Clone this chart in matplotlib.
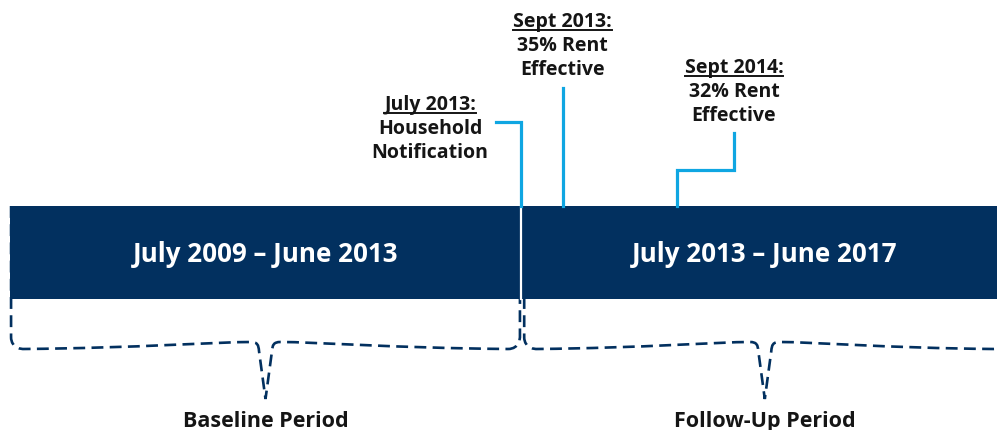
import matplotlib

matplotlib.use("Agg")
import matplotlib.pyplot as plt
from matplotlib.path import Path
from matplotlib.patches import PathPatch

NAVY = "#02305F"
CYAN = "#0FA6E2"
INK = "#151515"
FONT = "Open Sans"

# ---- data (x in months since July 2009) -----------------------------------
period_labels = ["July 2009 \u2013 June 2013", "July 2013 \u2013 June 2017"]
period_start = [0, 48]
period_end = [48, 96]
period_names = ["Baseline Period", "Follow-Up Period"]
brace_start = [0.1, 48.3]
brace_end = [47.9, 93.5]

event_titles = ["July 2013:", "Sept 2013:", "Sept 2014:"]
event_line1 = ["Household", "35% Rent", "32% Rent"]
event_line2 = ["Notification", "Effective", "Effective"]
event_month = [48, 51.9, 62.65]

# ---- layout (y in pixels from top) ----------------------------------------
PX = 10.646                      # pixels per month
label_x = [39.45, 51.9, 68.0]
label_base = [110, 27, 73]       # baseline of title line
BAR_TOP, BAR_BOT = 207, 300

fig = plt.figure(figsize=(9.97, 4.31), dpi=100)
ax = fig.add_axes([0, 0, 1, 1])
ax.set_xlim(-10 / PX, 987 / PX)
ax.set_ylim(431, 0)
ax.axis("off")

# bars
widths = [e - s for s, e in zip(period_start, period_end)]
ax.barh([(BAR_TOP + BAR_BOT) / 2] * 2, widths, left=period_start,
        height=BAR_BOT - BAR_TOP, color=NAVY, zorder=2)
ax.plot([48, 48], [BAR_TOP, BAR_BOT], color="white", lw=1.6, zorder=3)

for lab, bs, be in zip(period_labels, brace_start, brace_end):
    ax.text((bs + be) / 2, 262, lab, ha="center", va="baseline", color="white",
            fontsize=18.7, fontweight="bold", family=FONT, zorder=4)


# braces
def brace(x0, x1):
    xm = (x0 + x1) / 2
    r = 12 / PX
    verts = [(x0, BAR_TOP), (x0, 338),
             (x0, 350), (x0 + r, 350), (x0 + r, 350)]
    codes = [Path.MOVETO, Path.LINETO, Path.CURVE4, Path.CURVE4, Path.CURVE4]
    a = x0 + r
    b = xm - 15 / PX
    verts += [(a + (b - a) * 0.5, 349), (b - (b - a) * 0.15, 343), (b, 343)]
    codes += [Path.CURVE4] * 3
    verts += [(xm - 8 / PX, 343), (xm - 7 / PX, 346), (xm - 6.5 / PX, 352)]
    codes += [Path.CURVE4] * 3
    verts += [(xm, 400), (xm + 6.5 / PX, 352)]
    codes += [Path.LINETO, Path.LINETO]
    c = xm + 15 / PX
    d = x1 - r
    verts += [(xm + 7 / PX, 346), (xm + 8 / PX, 343), (c, 343)]
    codes += [Path.CURVE4] * 3
    verts += [(c + (d - c) * 0.15, 343), (d - (d - c) * 0.5, 349), (d, 350)]
    codes += [Path.CURVE4] * 3
    verts += [(x1, 350), (x1, 338), (x1, 338), (x1, BAR_TOP)]
    codes += [Path.CURVE4] * 3 + [Path.LINETO]
    return Path(verts, codes), xm


for name, bs, be in zip(period_names, brace_start, brace_end):
    p, xm = brace(bs, be)
    patch = PathPatch(p, facecolor="none", edgecolor=NAVY, lw=1.9,
                      linestyle=(0, (4.5, 2.4)), zorder=1)
    ax.add_patch(patch)
    ax.text(xm, 427, name, ha="center", va="baseline", color=INK,
            fontsize=15.5, fontweight="bold", family=FONT)

# event connectors
conn = [
    ([45.65, 48, 48], [123, 123, BAR_TOP]),
    ([51.9, 51.9], [89, BAR_TOP]),
    ([68.0, 68.0, 62.65, 62.65], [134, 171, 171, BAR_TOP]),
]
for (xs, ys), m in zip(conn, event_month):
    xs = xs[:-1] + [m] if len(xs) > 2 else [m, m]
    ax.plot(xs, ys, color=CYAN, lw=2.3, solid_joinstyle="miter", zorder=3)

# event labels with underlined titles
titles = []
for t, l1, l2, x, y in zip(event_titles, event_line1, event_line2, label_x, label_base):
    tt = ax.text(x, y, t, ha="center", va="baseline", color=INK,
                 fontsize=14, fontweight="bold", family=FONT)
    titles.append(tt)
    for k, line in enumerate([l1, l2]):
        ax.text(x, y + 24 * (k + 1), line, ha="center", va="baseline", color=INK,
                fontsize=14, fontweight="bold", family=FONT)

fig.canvas.draw()
inv = ax.transData.inverted()
for tt, y in zip(titles, label_base):
    bb = tt.get_window_extent()
    (xa, _), (xb, _) = inv.transform([(bb.x0, 0), (bb.x1, 0)])
    ax.plot([xa, xb], [y + 3.5, y + 3.5], color=INK, lw=1.4)

fig.savefig("out.png", dpi=100, facecolor="white")
